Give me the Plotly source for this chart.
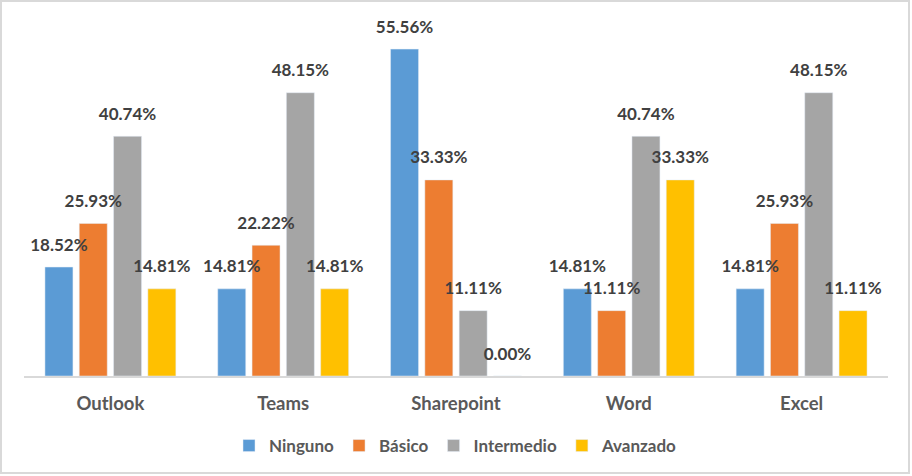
import plotly.graph_objects as go

# datos
categorias = ["Outlook", "Teams", "Sharepoint", "Word", "Excel"]
ninguno = [18.52, 14.81, 55.56, 14.81, 14.81]
basico = [25.93, 22.22, 33.33, 11.11, 25.93]
intermedio = [40.74, 48.15, 11.11, 40.74, 48.15]
avanzado = [14.81, 14.81, 0.00, 33.33, 11.11]

series = [
    ("Ninguno", ninguno, "#5B9BD5"),
    ("Básico", basico, "#ED7D31"),
    ("Intermedio", intermedio, "#A5A5A5"),
    ("Avanzado", avanzado, "#FFC000"),
]

W, H = 912, 476
ml, mr, mt, mb = 24, 24, 23, 100
pw, ph = W - ml - mr, H - mt - mb

fig = go.Figure()
for i, (nombre, vals, color) in enumerate(series):
    fig.add_trace(
        go.Bar(
            x=categorias,
            y=vals,
            name=nombre,
            marker_color=color,
            offsetgroup=str(i),
            hoverinfo="skip",
        )
    )
# etiquetas de datos
for i, (nombre, vals, color) in enumerate(series):
    fig.add_trace(
        go.Scatter(
            x=categorias,
            y=vals,
            mode="markers+text",
            marker=dict(size=18, opacity=0),
            text=[f"{v:.2f}%" for v in vals],
            textposition="top center",
            textfont=dict(family="Lato", size=17, color="#404040", weight="bold"),
            offsetgroup=str(i),
            showlegend=False,
            hoverinfo="skip",
            cliponaxis=False,
        )
    )

fig.update_layout(
    width=W,
    height=H,
    margin=dict(l=ml, r=mr, t=mt, b=mb),
    paper_bgcolor="white",
    plot_bgcolor="white",
    barmode="group",
    scattermode="group",
    bargap=0.206,
    bargroupgap=0.184,
    scattergap=0.206,
    font=dict(family="Lato", color="#595959"),
    xaxis=dict(
        showgrid=False,
        showline=True,
        linecolor="#D9D9D9",
        linewidth=2,
        ticks="outside",
        ticklen=10,
        tickcolor="rgba(0,0,0,0)",
        tickfont=dict(family="Lato", size=18.5, color="#595959", weight="bold"),
    ),
    yaxis=dict(
        range=[0, 60],
        visible=False,
    ),
    legend=dict(
        orientation="h",
        x=0.5,
        xanchor="center",
        y=(376 - 446) / ph,
        yanchor="middle",
        font=dict(family="Lato", size=17, color="#595959", weight="bold"),
        itemwidth=30,
        traceorder="normal",
    ),
    shapes=[
        dict(
            type="rect",
            xref="paper",
            yref="paper",
            x0=(1 - ml) / pw,
            x1=(909 - ml) / pw,
            y0=(mt + ph - 473) / ph,
            y1=(mt + ph - 1) / ph,
            line=dict(color="#D9D9D9", width=2),
            layer="below",
        )
    ],
)

fig.write_html(
    "out.html",
    config={"displayModeBar": False},
    post_script="document.body.style.margin='0';",
)
